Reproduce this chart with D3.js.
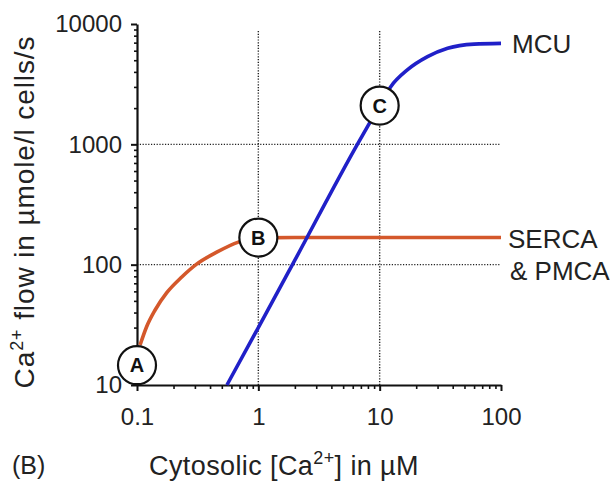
<!DOCTYPE html>
<html lang="en">
<head>
  <meta charset="UTF-8">
  <title>Ca2+ flow vs cytosolic Ca2+</title>
  <script src="https://d3js.org/d3.v7.min.js"></script>
  <style>
    body { margin: 0; background: #fff; }
    svg { display: block; font-family: "Liberation Sans", Arial, sans-serif; }
    .grid { stroke: #222; stroke-width: 1.4; stroke-dasharray: 1.2,1.6; fill: none; }
    .axis path, .axis line { stroke: #111; }
    .axis text { font-size: 24px; fill: #222; font-family: "Liberation Sans", Arial, sans-serif; }
  </style>
</head>
<body>
<svg width="613" height="481"></svg>

<script>
  // SERCA & PMCA curve
  const sercaX = [0.106, 0.12, 0.141, 0.176, 0.234, 0.31, 0.454, 0.684, 1.0, 2, 5, 10, 30, 100];
  const sercaY = [21.5, 30.5, 42, 58.5, 79, 101, 127, 154, 167, 168, 168, 168, 168, 168];

  // MCU curve
  const mcuX = [0.551, 1, 1.91, 6.55, 8.71, 10, 12.3, 16.9, 24.8, 36.3, 60, 100];
  const mcuY = [10, 30, 100, 1000, 1650, 2100, 3000, 4150, 5350, 6280, 6800, 6900];

  // labelled points
  const markLabels = ["A", "B", "C"];
  const markX = [0.1, 1, 10];
  const markY = [14.6, 168, 2100];

  const xTicks = [0.1, 1, 10, 100];
  const yTicks = [10, 100, 1000, 10000];
  const xGrid = [1, 10];
  const yGrid = [100, 1000];

  const svg = d3.select("svg");
  const mLeft = 137, mRight = 501, mTop = 24, mBottom = 385;

  const x = d3.scaleLog().domain([0.1, 100]).range([mLeft, mRight]);
  const y = d3.scaleLog().domain([10, 10000]).range([mBottom, mTop]);

  // minor tick values (2..9 in each decade)
  function minors(lo, hi) {
    const out = [];
    for (let d = lo; d < hi; d *= 10)
      for (let k = 2; k <= 9; k++) out.push(d * k);
    return out;
  }

  // dotted grid
  svg.append("g").selectAll("line").data(yGrid).join("line")
    .attr("class", "grid")
    .attr("x1", x(0.1)).attr("x2", x(100))
    .attr("y1", d => y(d)).attr("y2", d => y(d));
  svg.append("g").selectAll("line").data(xGrid).join("line")
    .attr("class", "grid")
    .attr("x1", d => x(d)).attr("x2", d => x(d))
    .attr("y1", y(10)).attr("y2", y(9000));

  // axes
  const fmt = d => d3.format("~g")(d);
  svg.append("g").attr("class", "axis")
    .attr("transform", `translate(${mLeft},0)`)
    .call(d3.axisLeft(y).tickValues(minors(10, 10000)).tickSize(3).tickFormat(""))
    .call(g => g.select(".domain").remove())
    .selectAll("line").attr("stroke-width", 1.6);
  const ya = svg.append("g").attr("class", "axis")
    .attr("transform", `translate(${mLeft},0)`)
    .call(d3.axisLeft(y).tickValues(yTicks).tickFormat(fmt).tickSize(6).tickSizeOuter(0).tickPadding(9));
  ya.select(".domain").attr("stroke-width", 2.2);
  ya.selectAll("line").attr("stroke-width", 2);

  svg.append("g").attr("class", "axis")
    .attr("transform", `translate(0,${mBottom})`)
    .call(d3.axisBottom(x).tickValues(minors(0.1, 100)).tickSize(4).tickFormat(""))
    .call(g => g.select(".domain").remove())
    .selectAll("line").attr("stroke-width", 1.6);
  const xa = svg.append("g").attr("class", "axis")
    .attr("transform", `translate(0,${mBottom})`)
    .call(d3.axisBottom(x).tickValues(xTicks).tickFormat(fmt).tickSize(6).tickSizeOuter(0).tickPadding(17));
  xa.select(".domain").attr("stroke-width", 2.2);
  xa.selectAll("line").attr("stroke-width", 2);

  // curves
  const line = d3.line().x(d => x(d[0])).y(d => y(d[1])).curve(d3.curveMonotoneX);
  svg.append("path")
    .datum(d3.zip(sercaX, sercaY))
    .attr("d", line)
    .attr("fill", "none").attr("stroke", "#d4582b").attr("stroke-width", 3.6);
  svg.append("path")
    .datum(d3.zip(mcuX, mcuY))
    .attr("d", line)
    .attr("fill", "none").attr("stroke", "#2020c8").attr("stroke-width", 3.6);

  // circled letters
  const marks = svg.append("g").selectAll("g").data(d3.range(markLabels.length)).join("g")
    .attr("transform", i => `translate(${x(markX[i])},${y(markY[i])})`);
  marks.append("circle").attr("r", 19).attr("fill", "#fff").attr("stroke", "#111").attr("stroke-width", 2.2);
  marks.append("text")
    .attr("text-anchor", "middle").attr("dy", "0.36em")
    .style("font-size", "20px").style("font-weight", "bold").attr("fill", "#111")
    .text(i => markLabels[i]);

  // curve labels
  svg.append("text").attr("x", x(100) + 11).attr("y", y(6900)).attr("dy", "0.36em")
    .style("font-size", "26px").attr("fill", "#222").text("MCU");
  svg.append("text").attr("x", x(100) + 7).attr("y", y(168)).attr("dy", "0.42em")
    .style("font-size", "26px").attr("fill", "#222").text("SERCA");
  svg.append("text").attr("x", x(100) + 9).attr("y", y(168) + 32).attr("dy", "0.42em")
    .style("font-size", "26px").attr("fill", "#222").text("& PMCA");

  // axis titles
  const yt = svg.append("text")
    .attr("transform", "translate(34,212) rotate(-90)")
    .attr("text-anchor", "middle").style("font-size", "28px").style("letter-spacing", "0.9px").attr("fill", "#222");
  yt.append("tspan").text("Ca");
  yt.append("tspan").attr("dy", -11).style("font-size", "18px").text("2+");
  yt.append("tspan").attr("dy", 11).text(" flow in µmole/l cells/s");

  const xt = svg.append("text")
    .attr("x", 284).attr("y", 475)
    .attr("text-anchor", "middle").style("font-size", "27px").style("letter-spacing", "0.4px").attr("fill", "#222");
  xt.append("tspan").text("Cytosolic [Ca");
  xt.append("tspan").attr("dy", -11).style("font-size", "18px").text("2+");
  xt.append("tspan").attr("dy", 11).text("] in µM");

  svg.append("text").attr("x", 12).attr("y", 474)
    .style("font-size", "25px").attr("fill", "#222").text("(B)");
</script>
</body>
</html>
